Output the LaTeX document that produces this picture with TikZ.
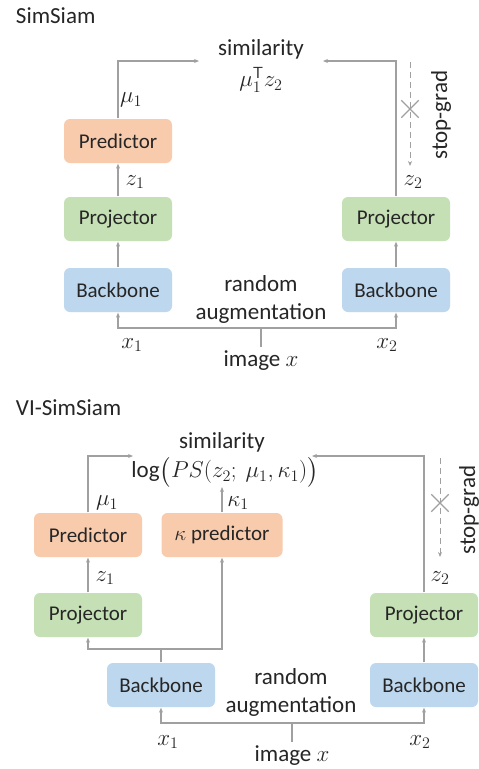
\documentclass[tikz,border=0pt]{standalone}
\usepackage{fix-cm}
\usepackage{amsmath}
\usepackage{fontspec}
\setmainfont{Carlito}
\usetikzlibrary{arrows.meta,shapes.misc}
\definecolor{predc}{HTML}{F8CBAD}
\definecolor{projc}{HTML}{C5E0B4}
\definecolor{backc}{HTML}{BDD7EE}
\definecolor{linec}{HTML}{A0A0A0}
\definecolor{textc}{HTML}{262626}
\newcommand\boxfont{\fontsize{21}{25}\selectfont}
\newcommand\labfont{\fontsize{23}{28}\selectfont}
\tikzset{
  box/.style={rounded corners=6pt,minimum width=108pt,minimum height=44pt,inner sep=0pt,font=\boxfont},
  pred/.style={box,fill=predc},
  proj/.style={box,fill=projc},
  back/.style={box,fill=backc},
  sgline/.style={line width=1pt,dash pattern=on 6pt off 4pt},
  cross/.style={cross out,draw=linec,line width=1.3pt,minimum size=16pt,inner sep=0pt},
}

\begin{document}
\begin{tikzpicture}[x=1pt,y=-1pt,font=\labfont,text=textc,
    >={Stealth[length=5pt,width=4pt]},every path/.style={draw=linec,line width=1.3pt}]
      \useasboundingbox[fill=white,draw=none] (0,0) rectangle (479,769);

      \node[anchor=west] (t1) at (12,16) {SimSiam};
      \node[pred] (p1) at (118,141) {Predictor};
      \node[proj] (j1) at (118,219) {Projector};
      \node[back] (b1) at (118,290) {Backbone};
      \node[proj] (j2) at (396,219) {Projector};
      \node[back] (b2) at (396,290) {Backbone};
      \node (s1) at (261,49) {similarity};
      \node (m1) at (261,80) {$\mu_1^{\mathsf{T}} z_2$};
      \node (r1) at (261,299) [align=center] {random\\augmentation};
      \node (img1) at (261,361) {image $x$};
      \coordinate (c1) at (199,61);
      \coordinate (c2) at (323,61);
      \coordinate (a1) at (261,328);
      \coordinate (g1) at (410,62);
      \coordinate (g2) at (410,166);

      \draw[->] (p1.north) |- (c1);
      \draw[->] (j2.north) |- (c2);
      \draw[->] (j1) -- (p1);
      \draw[->] (b1) -- (j1);
      \draw[->] (b2) -- (j2);
      \draw (img1.north) -- (a1);
      \draw[->] (a1) -| (b1);
      \draw[->] (a1) -| (b2);
      \draw[sgline,->] (g1) -- (g2);
      \node[cross] (x1) at (410,109) {};
      \node[rotate=90] (sg1) at (441,115) {stop-grad};

      \node at (131,100) {$\mu_1$};
      \node at (135,182) {$z_1$};
      \node at (413,182) {$z_2$};
      \node at (132,345) {$x_1$};
      \node at (387,345) {$x_2$};

      \node[anchor=west] (t2) at (12,408) {VI-SimSiam};
      \node[pred] (p2) at (88,535) {Predictor};
      \node[pred,minimum width=121pt] (k2) at (222,535) {$\kappa$ predictor};
      \node[proj] (j3) at (88,615) {Projector};
      \node[back] (b3) at (161,685) {Backbone};
      \node[proj] (j4) at (424,615) {Projector};
      \node[back] (b4) at (424,685) {Backbone};
      \node (s2) at (222,442) {similarity};
      \node (l2) at (225,472) {$\log\bigl(PS(z_2;\ \mu_1,\kappa_1)\bigr)$};
      \node (r2) at (291,692) [align=center] {random\\augmentation};
      \node (img2) at (292,756) {image $x$};
      \coordinate (c3) at (133,456);
      \coordinate (c4) at (312,456);
      \coordinate (c5) at (222,487);
      \coordinate (d1) at (161,649);
      \coordinate (a2) at (292,723);
      \coordinate (g3) at (440,458);
      \coordinate (g4) at (440,557);

      \draw[->] (p2.north) |- (c3);
      \draw[->] (j4.north) |- (c4);
      \draw[->] (k2) -- (c5);
      \draw (b3) -- (d1);
      \draw[->] (d1) -| (j3);
      \draw[->] (d1) -| (k2);
      \draw[->] (j3) -- (p2);
      \draw[->] (b4) -- (j4);
      \draw (img2.north) -- (a2);
      \draw[->] (a2) -| (b3);
      \draw[->] (a2) -| (b4);
      \draw[sgline,->] (g3) -- (g4);
      \node[cross] (x2) at (440,503) {};
      \node[rotate=90] (sg2) at (469,510) {stop-grad};

      \node at (107,503) {$\mu_1$};
      \node at (238,503) {$\kappa_1$};
      \node at (105,578) {$z_1$};
      \node at (440,578) {$z_2$};
      \node at (168,742) {$x_1$};
      \node at (420,742) {$x_2$};
    \end{tikzpicture}
\end{document}
